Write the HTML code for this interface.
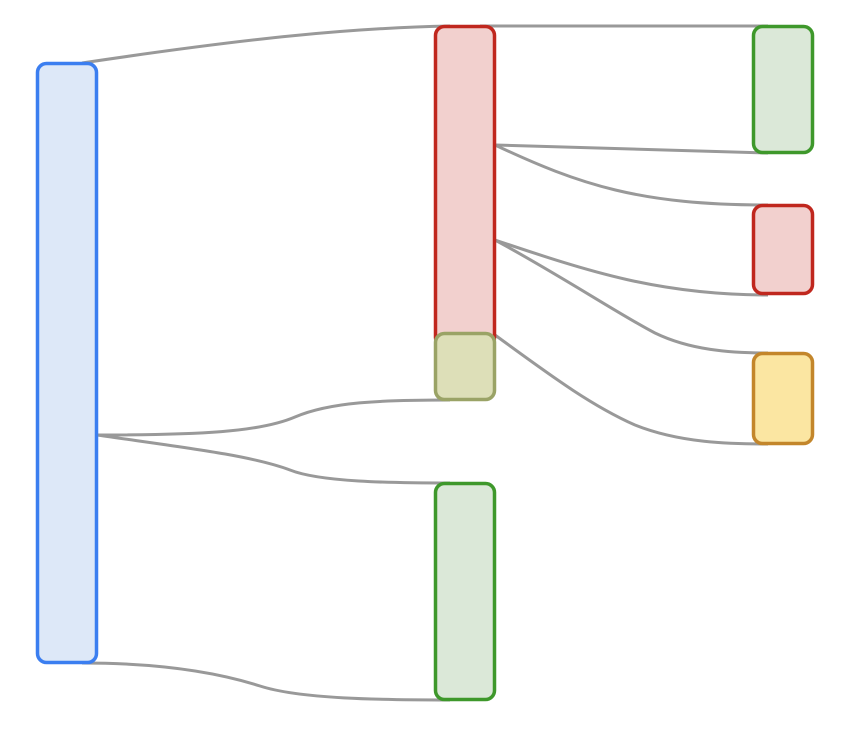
<!DOCTYPE html>
<html><head><style>body{margin:0;background:#fff}svg{display:block}</style></head>
<body>
<svg width="842" height="734" viewBox="0 0 842 734" xmlns="http://www.w3.org/2000/svg">
<g fill="none" stroke="#999" stroke-width="3">
<path d="M82,63 C250,38 350,28 450,26"/>
<path d="M97,435 C200,435 260,432 295,417 C330,402 380,400 450,400"/>
<path d="M97,435 C180,447 250,455 290,470 C320,482 390,483 450,483"/>
<path d="M82,663 C150,663 210,670 260,686 C300,699 380,700 450,700"/>
<path d="M480,26 L768,26"/>
<path d="M495,145 L768,153"/>
<path d="M495,145 C580,185 640,205 768,205"/>
<path d="M495,240 C590,272 660,295 768,295"/>
<path d="M495,240 C560,275 620,315 655,333 C690,350 730,353 768,353"/>
<path d="M495,335 C550,375 590,405 635,425 C680,443 730,444 768,444"/>
</g>
<g stroke-width="3.5">
<rect x="37.5" y="63.5" width="59" height="599" rx="9" fill="#dde8f8" stroke="#3b7ef0"/>
<rect x="435.5" y="26.5" width="59" height="320" rx="9" fill="#f2d0ce" stroke="#c0271e"/>
<rect x="435.5" y="333.5" width="59" height="66" rx="9" fill="#dddfb8" stroke="#9aa366"/>
<rect x="435.5" y="483.5" width="59" height="216" rx="9" fill="#dbe8d8" stroke="#3e982b"/>
<rect x="753.5" y="26.5" width="59" height="126" rx="9" fill="#dbe8d8" stroke="#3e982b"/>
<rect x="753.5" y="205.5" width="59" height="88" rx="9" fill="#f2d0ce" stroke="#c0271e"/>
<rect x="753.5" y="353.5" width="59" height="90" rx="9" fill="#fbe6a2" stroke="#c3862b"/>
</g>
</svg>
</body></html>
